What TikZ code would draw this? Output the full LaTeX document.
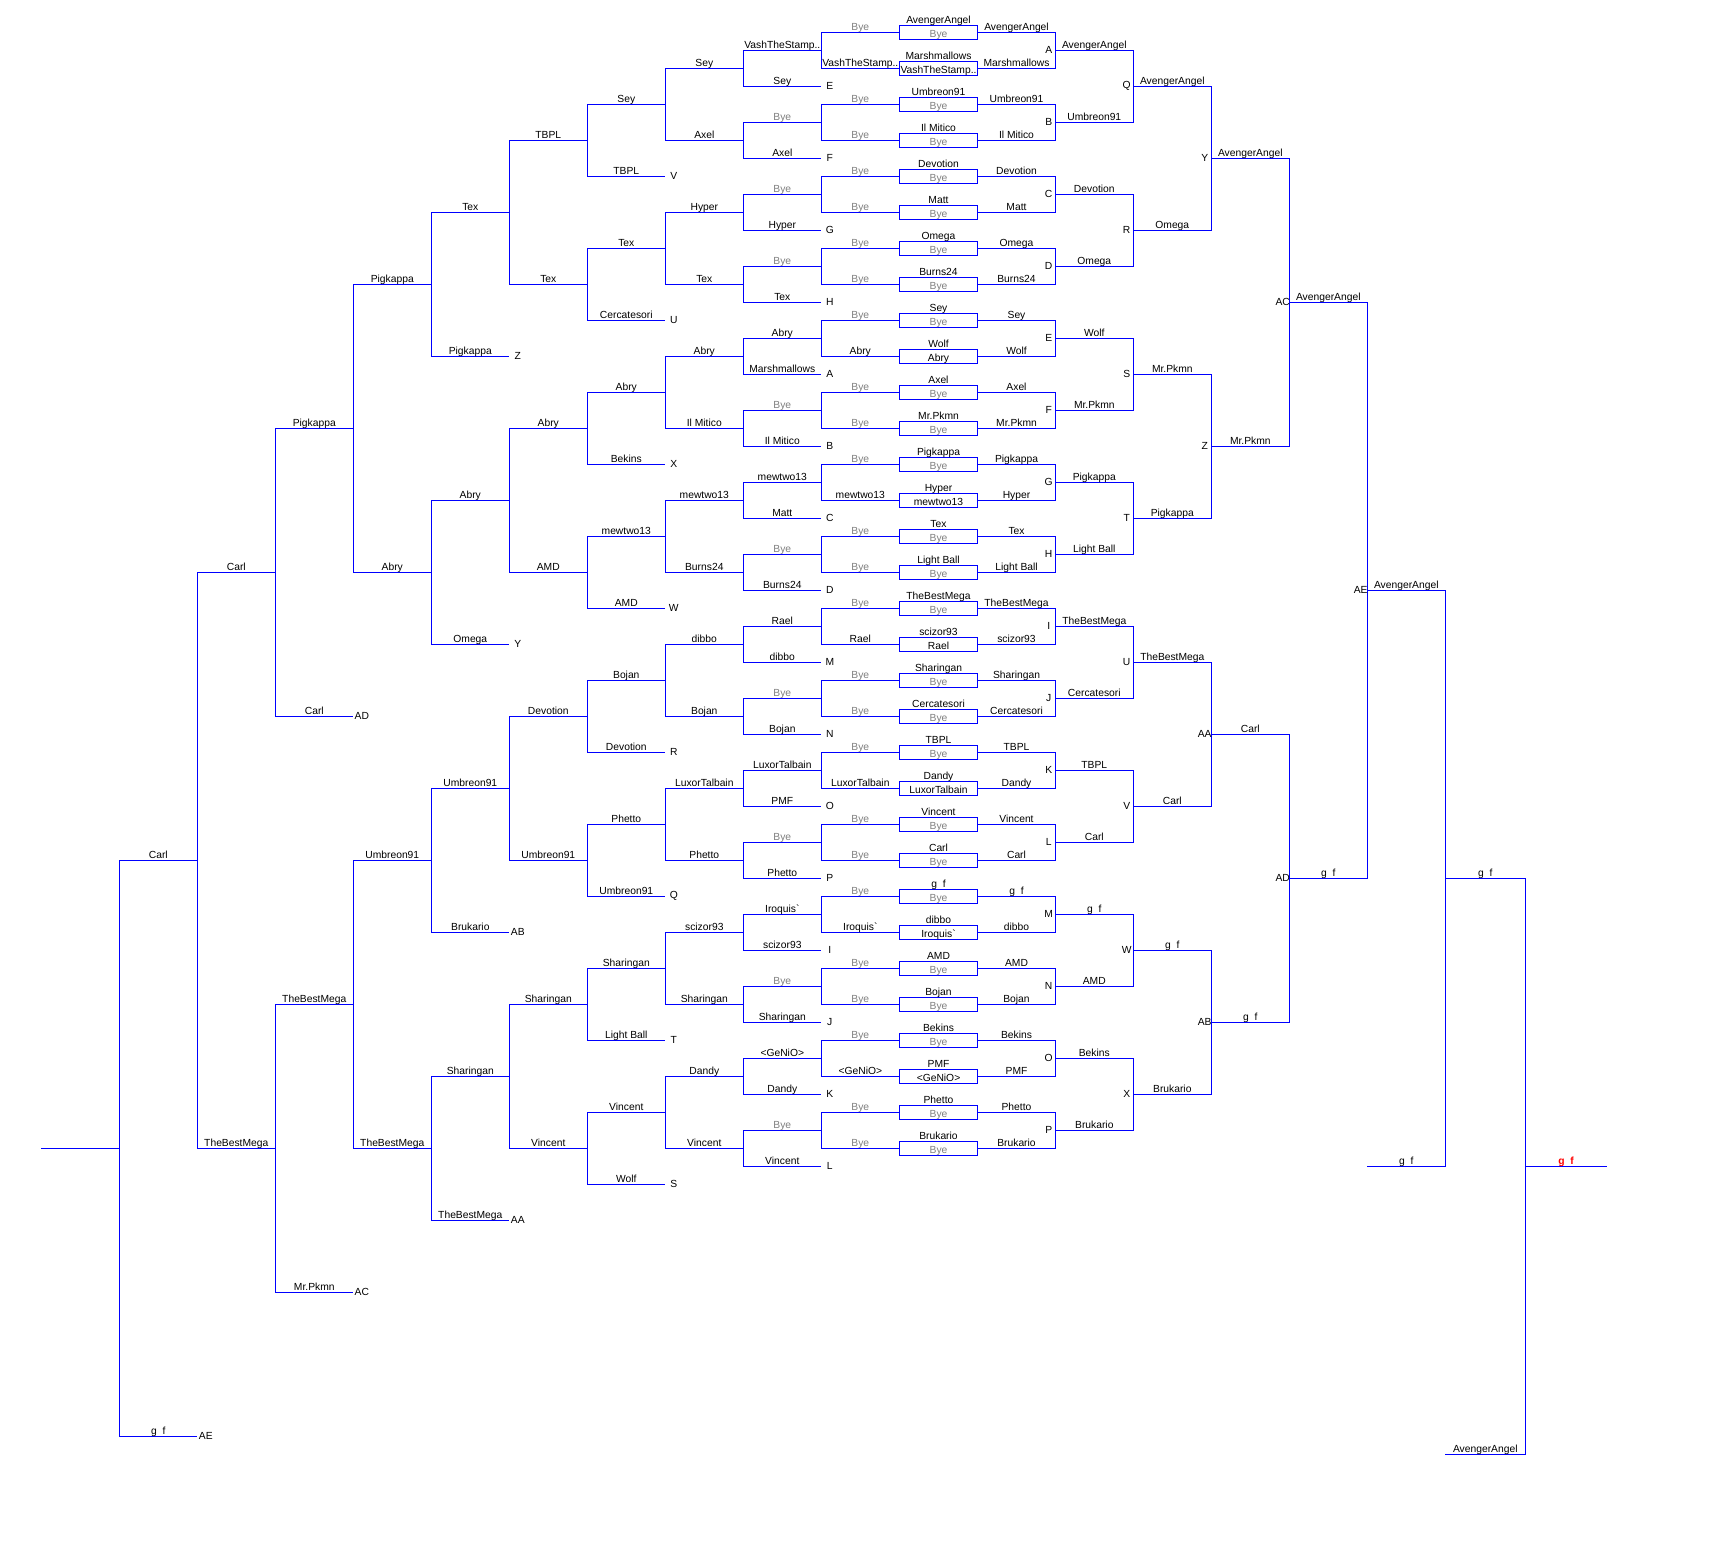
\documentclass[tikz,border=0pt]{standalone}
\usepackage{fontspec}
\setmainfont{Liberation Sans}
\newcommand\byeL{\textcolor{gray}{Bye}}
\newcommand\vashN{VashTheStamp..}
\newcommand\iroN{Iroquis\textasciigrave}
\begin{document}
\begin{tikzpicture}[x=1pt,y=-1pt,
  ln/.style={draw=blue,line width=1pt},
  lab/.style={font=\fontsize{10.3}{12}\selectfont,inner sep=0pt,anchor=base,yshift=1.8pt},
  letr/.style={font=\fontsize{10.3}{12}\selectfont,inner sep=0pt,anchor=center},
  mbox/.style={draw=blue,line width=1pt,minimum width=78.4pt,minimum height=14pt,inner sep=0pt,outer sep=0pt}]
\useasboundingbox (0,0) rectangle (1723,1551);
\fill[white] (0,0) rectangle (1723,1551);

% ---------- winners' first round (boxes) ----------
\foreach \k/\xA/\xB in {0/AvengerAngel/\byeL, 1/Marshmallows/\vashN, 2/Umbreon91/\byeL,
  3/Il Mitico/\byeL, 4/Devotion/\byeL, 5/Matt/\byeL, 6/Omega/\byeL, 7/Burns24/\byeL,
  8/Sey/\byeL, 9/Wolf/Abry, 10/Axel/\byeL, 11/Mr.Pkmn/\byeL, 12/Pigkappa/\byeL,
  13/Hyper/mewtwo13, 14/Tex/\byeL, 15/Light Ball/\byeL, 16/TheBestMega/\byeL,
  17/scizor93/Rael, 18/Sharingan/\byeL, 19/Cercatesori/\byeL, 20/TBPL/\byeL,
  21/Dandy/LuxorTalbain, 22/Vincent/\byeL, 23/Carl/\byeL, 24/g~~f/\byeL,
  25/dibbo/\iroN, 26/AMD/\byeL, 27/Bojan/\byeL, 28/Bekins/\byeL,
  29/PMF/<GeNiO>, 30/Phetto/\byeL, 31/Brukario/\byeL}{
  \node[mbox] (box\k) at (938.5,{32.3+36*\k}) {};
  \node[lab] (bt\k) at (938.5,{25.3+36*\k}) {\xA};
  \node[lab] (bi\k) at (938.5,{39.3+36*\k}) {\xB};
  \node[lab] (br\k) at (1016.5,{32.3+36*\k}) {\xA};
  \node[lab] (bl\k) at (860.3,{32.3+36*\k}) {\xB};
}

% ---------- winners' bracket ----------
\foreach \j/\xA/\xB in {0/A/AvengerAngel, 1/B/Umbreon91, 2/C/Devotion, 3/D/Omega,
  4/E/Wolf, 5/F/Mr.Pkmn, 6/G/Pigkappa, 7/H/Light Ball, 8/I/TheBestMega,
  9/J/Cercatesori, 10/K/TBPL, 11/L/Carl, 12/M/g~~f, 13/N/AMD, 14/O/Bekins, 15/P/Brukario}{
  \pgfmathtruncatemacro\ia{2*\j}\pgfmathtruncatemacro\ib{2*\j+1}
  \coordinate (wA\j) at (1055.3,{50.3+72*\j});
  \draw[ln] (box\ia.east) -| (wA\j) |- (box\ib.east);
  \node[letr] (wAl\j) at (1048.7,{50.3+72*\j}) {\xA};
  \node[lab] (wAw\j) at (1094.3,{50.3+72*\j}) {\xB};
}
\foreach \j/\xA/\xB in {0/Q/AvengerAngel, 1/R/Omega, 2/S/Mr.Pkmn, 3/T/Pigkappa,
  4/U/TheBestMega, 5/V/Carl, 6/W/g~~f, 7/X/Brukario}{
  \pgfmathtruncatemacro\ia{2*\j}\pgfmathtruncatemacro\ib{2*\j+1}
  \coordinate (wB\j) at (1133.3,{86.3+144*\j});
  \draw[ln] (wA\ia) -| (wB\j) |- (wA\ib);
  \node[letr] (wBl\j) at (1126.7,{86.3+144*\j}) {\xA};
  \node[lab] (wBw\j) at (1172.3,{86.3+144*\j}) {\xB};
}
\foreach \j/\xA/\xB in {0/Y/AvengerAngel, 1/Z/Mr.Pkmn, 2/AA/Carl, 3/AB/g~~f}{
  \pgfmathtruncatemacro\ia{2*\j}\pgfmathtruncatemacro\ib{2*\j+1}
  \coordinate (wC\j) at (1211.3,{158.3+288*\j});
  \draw[ln] (wB\ia) -| (wC\j) |- (wB\ib);
  \node[letr] (wCl\j) at (1204.7,{158.3+288*\j}) {\xA};
  \node[lab] (wCw\j) at (1250.3,{158.3+288*\j}) {\xB};
}
\foreach \j/\xA/\xB in {0/AC/AvengerAngel, 1/AD/g~~f}{
  \pgfmathtruncatemacro\ia{2*\j}\pgfmathtruncatemacro\ib{2*\j+1}
  \coordinate (wD\j) at (1289.3,{302.3+576*\j});
  \draw[ln] (wC\ia) -| (wD\j) |- (wC\ib);
  \node[letr] (wDl\j) at (1282.7,{302.3+576*\j}) {\xA};
  \node[lab] (wDw\j) at (1328.3,{302.3+576*\j}) {\xB};
}
\coordinate (wE) at (1367.3,590.3);
\draw[ln] (wD0) -| (wE) |- (wD1);
\node[letr] (wEl) at (1360.7,590.3) {AE};
\node[lab] (wEw) at (1406.3,590.3) {AvengerAngel};

% ---------- grand final ----------
\coordinate (gIn) at (1367.3,1166.3);
\coordinate (g1) at (1445.3,878.3);
\draw[ln] (wE) -| (g1) |- (gIn);
\node[lab] (gInw) at (1406.3,1166.3) {g~~f};
\node[lab] (g1w) at (1485.3,878.3) {g~~f};
\coordinate (gIn2) at (1445.3,1454.3);
\coordinate (g2) at (1525.3,1166.3);
\draw[ln] (g1) -| (g2) |- (gIn2);
\node[lab] (gIn2w) at (1485.3,1454.3) {AvengerAngel};
\coordinate (gEnd) at (1606.7,1166.3);
\draw[ln] (g2) -- (gEnd);
\node[lab,text=red,font=\fontsize{10.3}{12}\selectfont\bfseries] (champ) at (1566,1166.3) {g~~f};

% ---------- losers' bracket ----------
\foreach \j/\xA in {0/\vashN, 1/\byeL, 2/\byeL, 3/\byeL, 4/Abry, 5/\byeL, 6/mewtwo13,
  7/\byeL, 8/Rael, 9/\byeL, 10/LuxorTalbain, 11/\byeL, 12/\iroN, 13/\byeL,
  14/<GeNiO>, 15/\byeL}{
  \pgfmathtruncatemacro\ia{2*\j}\pgfmathtruncatemacro\ib{2*\j+1}
  \coordinate (lA\j) at (821.3,{50.3+72*\j});
  \draw[ln] (box\ia.west) -| (lA\j) |- (box\ib.west);
  \node[lab] (lAw\j) at (782.3,{50.3+72*\j}) {\xA};
}
\foreach \j/\xA/\xB/\xC in {0/Sey/E/Sey, 1/Axel/F/Axel, 2/Hyper/G/Hyper, 3/Tex/H/Tex,
  4/Marshmallows/A/Abry, 5/Il Mitico/B/Il Mitico, 6/Matt/C/mewtwo13, 7/Burns24/D/Burns24,
  8/dibbo/M/dibbo, 9/Bojan/N/Bojan, 10/PMF/O/LuxorTalbain, 11/Phetto/P/Phetto,
  12/scizor93/I/scizor93, 13/Sharingan/J/Sharingan, 14/Dandy/K/Dandy, 15/Vincent/L/Vincent}{
  \coordinate (lB\j) at (743.3,{68.3+72*\j});
  \coordinate (eB\j) at (821.3,{86.3+72*\j});
  \draw[ln] (lA\j) -| (lB\j) |- (eB\j);
  \node[lab] (eBn\j) at (782.3,{86.3+72*\j}) {\xA};
  \node[letr] (eBl\j) at (829.8,{86.3+72*\j}) {\xB};
  \node[lab] (lBw\j) at (704.3,{68.3+72*\j}) {\xC};
}
\foreach \j/\xA in {0/Sey, 1/Tex, 2/Abry, 3/mewtwo13, 4/Bojan, 5/Phetto, 6/Sharingan, 7/Vincent}{
  \pgfmathtruncatemacro\ia{2*\j}\pgfmathtruncatemacro\ib{2*\j+1}
  \coordinate (lC\j) at (665.3,{104.3+144*\j});
  \draw[ln] (lB\ia) -| (lC\j) |- (lB\ib);
  \node[lab] (lCw\j) at (626.3,{104.3+144*\j}) {\xA};
}
\foreach \j/\xA/\xB/\xC in {0/TBPL/V/TBPL, 1/Cercatesori/U/Tex, 2/Bekins/X/Abry, 3/AMD/W/AMD,
  4/Devotion/R/Devotion, 5/Umbreon91/Q/Umbreon91, 6/Light Ball/T/Sharingan, 7/Wolf/S/Vincent}{
  \coordinate (lD\j) at (587.3,{140.3+144*\j});
  \coordinate (eD\j) at (665.3,{176.3+144*\j});
  \draw[ln] (lC\j) -| (lD\j) |- (eD\j);
  \node[lab] (eDn\j) at (626.3,{176.3+144*\j}) {\xA};
  \node[letr] (eDl\j) at (673.8,{176.3+144*\j}) {\xB};
  \node[lab] (lDw\j) at (548.3,{140.3+144*\j}) {\xC};
}
\foreach \j/\xA in {0/Tex, 1/Abry, 2/Umbreon91, 3/Sharingan}{
  \pgfmathtruncatemacro\ia{2*\j}\pgfmathtruncatemacro\ib{2*\j+1}
  \coordinate (lE\j) at (509.3,{212.3+288*\j});
  \draw[ln] (lD\ia) -| (lE\j) |- (lD\ib);
  \node[lab] (lEw\j) at (470.3,{212.3+288*\j}) {\xA};
}
\foreach \j/\xA/\xB/\xC in {0/Pigkappa/Z/Pigkappa, 1/Omega/Y/Abry, 2/Brukario/AB/Umbreon91,
  3/TheBestMega/AA/TheBestMega}{
  \coordinate (lF\j) at (431.3,{284.3+288*\j});
  \coordinate (eF\j) at (509.3,{356.3+288*\j});
  \draw[ln] (lE\j) -| (lF\j) |- (eF\j);
  \node[lab] (eFn\j) at (470.3,{356.3+288*\j}) {\xA};
  \node[letr] (eFl\j) at (517.8,{356.3+288*\j}) {\xB};
  \node[lab] (lFw\j) at (392.3,{284.3+288*\j}) {\xC};
}
\foreach \j/\xA in {0/Pigkappa, 1/TheBestMega}{
  \pgfmathtruncatemacro\ia{2*\j}\pgfmathtruncatemacro\ib{2*\j+1}
  \coordinate (lG\j) at (353.3,{428.3+576*\j});
  \draw[ln] (lF\ia) -| (lG\j) |- (lF\ib);
  \node[lab] (lGw\j) at (314.3,{428.3+576*\j}) {\xA};
}
\foreach \j/\xA/\xB/\xC in {0/Carl/AD/Carl, 1/Mr.Pkmn/AC/TheBestMega}{
  \coordinate (lH\j) at (275.3,{572.3+576*\j});
  \coordinate (eH\j) at (353.3,{716.3+576*\j});
  \draw[ln] (lG\j) -| (lH\j) |- (eH\j);
  \node[lab] (eHn\j) at (314.3,{716.3+576*\j}) {\xA};
  \node[letr] (eHl\j) at (361.8,{716.3+576*\j}) {\xB};
  \node[lab] (lHw\j) at (236.3,{572.3+576*\j}) {\xC};
}
\coordinate (lI) at (197.3,860.3);
\draw[ln] (lH0) -| (lI) |- (lH1);
\node[lab] (lIw) at (158.3,860.3) {Carl};
\coordinate (lJ) at (119.3,1148.3);
\coordinate (eJ) at (197.3,1436.3);
\draw[ln] (lI) -| (lJ) |- (eJ);
\node[lab] (eJn) at (158.3,1436.3) {g~~f};
\node[letr] (eJl) at (205.8,1436.3) {AE};
\coordinate (lK) at (41.3,1148.3);
\draw[ln] (lJ) -- (lK);
\end{tikzpicture}
\end{document}
